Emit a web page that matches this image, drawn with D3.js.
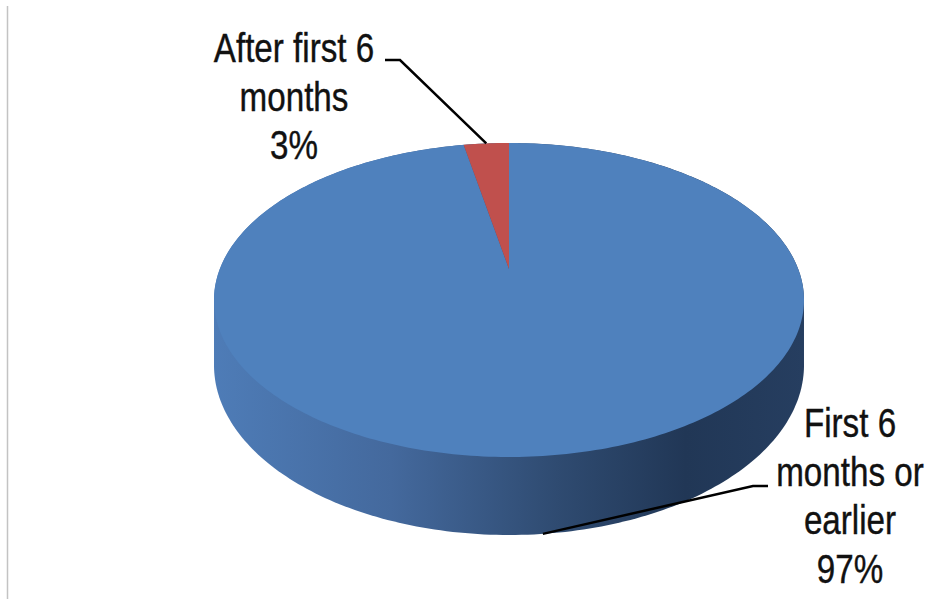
<!DOCTYPE html>
<html lang="en">
<head>
<meta charset="UTF-8">
<title>pie 3d</title>
<style type="text/css">
    body{margin:0;background:#fff;}
    svg{display:block;}
</style>
<script src="https://cdn.jsdelivr.net/npm/d3@7/dist/d3.min.js"></script>
</head>
<body>
<div id="draw"></div>
<script>
    // data
    var categories = ["First 6 months or earlier", "After first 6 months"];
    var values = [97, 3];
    var labelLines = [["First 6", "months or", "earlier", "97%"], ["After first 6", "months", "3%"]];
    var colors = ["#4f81bd", "#c0504d"];

    var w = 925, h = 605;
    var cx = 509;      // pie centre x
    var topY = 143;    // far edge of top face
    var midY = 269;    // centre of pie (apex of slices)
    var frontY = 457;  // near edge of top face
    var rx = 295;      // half width of top face
    var depthFront = 78; // side height at the front

    // perspective factor, from the three measured y's
    var k = (topY + frontY - 2 * midY) / (frontY - topY);
    var q = topY * (1 + k) - midY;
    var A = rx * Math.sqrt(1 - k * k);
    var D = depthFront * (1 - k);

    // phi clockwise from 12 o'clock, lvl 0 = top face, 1 = bottom
    function proj(phi, lvl){
        var u = Math.sin(phi), v = Math.cos(phi);
        var s = 1 + k * v;
        return [cx + A * u / s, (midY + q * v) / s + lvl * D / s];
    }

    var svg = d3.select("#draw").append("svg")
        .attr("width", w)
        .attr("height", h);

    // thin grey rule on the left
    svg.append("line")
        .attr("x1", 7.5).attr("x2", 7.5)
        .attr("y1", 6).attr("y2", 599)
        .attr("stroke", "#c3c3c3")
        .attr("stroke-width", 1.5);

    var grad = svg.append("defs").append("linearGradient")
        .attr("id", "side")
        .attr("gradientUnits", "userSpaceOnUse")
        .attr("x1", cx - rx).attr("x2", cx + rx)
        .attr("y1", 0).attr("y2", 0);
    [[0, "#4e7cb7"], [0.3, "#44699d"], [0.58, "#2f4b71"], [0.8, "#213756"], [1, "#263e60"]].forEach(function(s){
        grad.append("stop").attr("offset", s[0]).attr("stop-color", s[1]);
    });

    var pie = d3.pie().sort(null).value(function(d){ return d; });
    var arcs = pie(values);

    // side of the cylinder: hull of top and bottom rims
    var rim = d3.range(0, 361).map(function(i){ return i * Math.PI / 180; });
    var pts = rim.map(function(p){ return proj(p, 0); }).concat(rim.map(function(p){ return proj(p, 1); }));
    svg.append("path")
        .attr("d", "M" + d3.polygonHull(pts).join("L") + "Z")
        .attr("fill", "url(#side)");

    // top face slices
    svg.selectAll("path.slice")
        .data(arcs)
        .enter()
        .append("path")
        .attr("class", "slice")
        .attr("fill", function(d, i){ return colors[i]; })
        .attr("d", function(d){
            var n = Math.max(2, Math.ceil((d.endAngle - d.startAngle) * 60));
            var p = d3.range(n + 1).map(function(j){
                return proj(d.startAngle + (d.endAngle - d.startAngle) * j / n, 0);
            });
            return "M" + [cx, midY] + "L" + p.join("L") + "Z";
        });

    // labels: anchor x, first baseline, elbow of leader line, level of leader end
    var labelPos = [
        {x: 850, y: 437, elbow: [[768, 486], [753, 486]], lvl: 1},
        {x: 294, y: 62,  elbow: [[385, 60], [400, 60]], lvl: 0}
    ];
    var lineH = 48.7;

    arcs.forEach(function(d, i){
        var lp = labelPos[i];
        var end = proj((d.startAngle + d.endAngle) / 2, lp.lvl);
        svg.append("path")
            .attr("d", "M" + lp.elbow[0] + "L" + lp.elbow[1] + "L" + end)
            .attr("fill", "none")
            .attr("stroke", "#000")
            .attr("stroke-width", 2.5);
        // narrow the face, the original is a condensed font
        var t = svg.append("text")
            .attr("transform", "translate(" + lp.x + ",0) scale(0.83,1)")
            .attr("text-anchor", "middle")
            .attr("font-family", "'Liberation Sans', Arial, sans-serif")
            .attr("font-size", 40)
            .attr("fill", "#111")
            .attr("stroke", "#111")
            .attr("stroke-width", 0.4);
        labelLines[i].forEach(function(s, j){
            t.append("tspan").attr("x", 0).attr("y", lp.y + j * lineH).text(s);
        });
    });
</script>
</body>
</html>
